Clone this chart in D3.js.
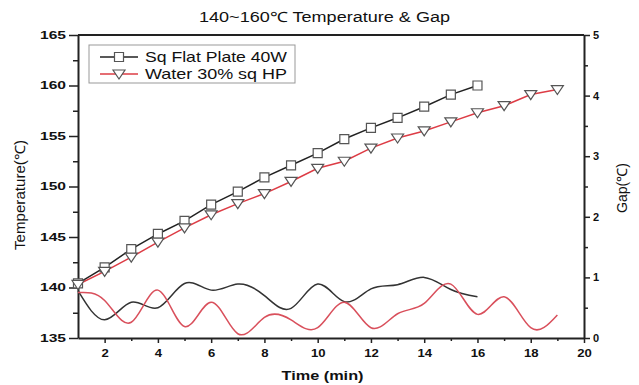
<!DOCTYPE html>
<html>
<head>
<meta charset="utf-8">
<script src="https://cdn.jsdelivr.net/npm/d3@7"></script>
<style>
    body { margin: 0; background: #fff; }
    text { font-family: "Liberation Sans", Arial, sans-serif; fill: #111; }
</style>
</head>
<body>
<div id="chart"></div>
<script>

// data
const timeMin = [1, 2, 3, 4, 5, 6, 7, 8, 9, 10, 11, 12, 13, 14, 15, 16, 17, 18, 19];
const flatTemp = [140.4, 142.0, 143.8, 145.3, 146.6, 148.2, 149.5, 150.9, 152.1, 153.3, 154.7, 155.8, 156.8, 157.9, 159.1, 160.0];
const waterTemp = [140.3, 141.6, 143.0, 144.5, 145.9, 147.2, 148.3, 149.3, 150.5, 151.8, 152.5, 153.8, 154.8, 155.5, 156.4, 157.3, 158.0, 159.1, 159.6];
const flatGap = [0.78, 0.30, 0.59, 0.50, 0.90, 0.79, 0.89, 0.70, 0.49, 0.89, 0.60, 0.81, 0.88, 1.0, 0.80, 0.68];
const waterGap = [0.75, 0.62, 0.26, 0.79, 0.19, 0.59, 0.07, 0.34, 0.30, 0.17, 0.59, 0.17, 0.40, 0.57, 0.89, 0.39, 0.68, 0.17, 0.38];

const seriesNames = ["Sq Flat Plate 40W", "Water 30% sq HP"];
const tempTicks = [135, 140, 145, 150, 155, 160, 165];
const gapTicks = [0, 1, 2, 3, 4, 5];
const timeTicks = [2, 4, 6, 8, 10, 12, 14, 16, 18, 20];


class tempGapVis {

    constructor(parentElement) {
        this.parentElement = parentElement;
        this.initVis()
    }

    initVis() {
        let vis = this;

        vis.margin = { top: 35, right: 55, bottom: 47, left: 78 };
        vis.width = 639 - vis.margin.left - vis.margin.right;
        vis.height = 385 - vis.margin.top - vis.margin.bottom;

        vis.root = d3.select("#" + vis.parentElement).append("svg")
            .attr("width", 639)
            .attr("height", 385);

        vis.svg = vis.root.append("g")
            .attr("transform", `translate(${vis.margin.left}, ${vis.margin.top})`);

        // title
        vis.root.append("text")
            .text("140~160℃ Temperature & Gap")
            .attr("x", 324.5)
            .attr("y", 22)
            .attr("text-anchor", "middle")
            .attr("font-size", 14)
            .attr("textLength", 251)
            .attr("lengthAdjust", "spacingAndGlyphs");

        // scales
        vis.x = d3.scaleLinear().domain([1, 20]).range([0, vis.width]);
        vis.yTemp = d3.scaleLinear().domain([135, 165]).range([vis.height, 0]);
        vis.yGap = d3.scaleLinear().domain([0, 5]).range([vis.height, 0]);

        vis.wrangleData()
    }

    wrangleData() {
        let vis = this;

        vis.flat = flatTemp.map((t, i) => ({ x: timeMin[i], t: t, g: flatGap[i] }));
        vis.water = waterTemp.map((t, i) => ({ x: timeMin[i], t: t, g: waterGap[i] }));

        vis.updateVis()
    }

    updateVis() {
        let vis = this;

        let half = arr => d3.range(arr[0], arr[arr.length - 1], (arr[1] - arr[0]) / 2).filter(v => !arr.includes(v));

        // minor ticks
        vis.svg.append("g").attr("class", "minor")
            .call(d3.axisLeft(vis.yTemp).tickValues(half(tempTicks)).tickSize(5).tickFormat(""));
        vis.svg.append("g").attr("class", "minor")
            .attr("transform", `translate(0, ${vis.height})`)
            .call(d3.axisBottom(vis.x).tickValues(d3.range(3, 20, 2)).tickSize(3).tickFormat(""));
        vis.svg.append("g").attr("class", "minor")
            .attr("transform", `translate(${vis.width}, 0)`)
            .call(d3.axisRight(vis.yGap).tickValues(half(gapTicks)).tickSize(4).tickFormat(""));

        // major axes
        vis.yAxisGroup = vis.svg.append("g")
            .call(d3.axisLeft(vis.yTemp).tickValues(tempTicks).tickSize(9).tickSizeOuter(0).tickPadding(3));
        vis.yAxisGroup.selectAll("text")
            .attr("font-size", 10).attr("font-weight", "bold")
            .attr("textLength", 26).attr("lengthAdjust", "spacingAndGlyphs");

        vis.xAxisGroup = vis.svg.append("g")
            .attr("transform", `translate(0, ${vis.height})`)
            .call(d3.axisBottom(vis.x).tickValues(timeTicks).tickFormat(d3.format("d"))
                .tickSize(5).tickSizeOuter(0).tickPadding(6.5));
        vis.xAxisGroup.selectAll("text")
            .attr("font-size", 11).attr("font-weight", "bold")
            .attr("textLength", d => String(d).length * 7.3).attr("lengthAdjust", "spacingAndGlyphs");

        vis.gapAxisGroup = vis.svg.append("g")
            .attr("transform", `translate(${vis.width}, 0)`)
            .call(d3.axisRight(vis.yGap).tickValues(gapTicks).tickFormat(d3.format("d"))
                .tickSize(6).tickSizeOuter(0).tickPadding(3));
        vis.gapAxisGroup.selectAll("text")
            .attr("font-size", 11).attr("font-weight", "bold");

        vis.svg.selectAll(".domain").attr("stroke", "#222").attr("stroke-width", 2);
        vis.svg.selectAll(".minor .domain").remove();
        vis.svg.selectAll(".tick line").attr("stroke", "#222").attr("stroke-width", 1.5);

        // top frame
        vis.svg.append("line")
            .attr("x1", vis.x(1)).attr("x2", vis.x(20))
            .attr("y1", vis.yTemp(165)).attr("y2", vis.yTemp(165))
            .attr("stroke", "#222").attr("stroke-width", 2);

        // axis titles
        vis.root.append("text")
            .text("Temperature(℃)")
            .attr("transform", `translate(25, 195) rotate(-90)`)
            .attr("text-anchor", "middle")
            .attr("font-size", 14)
            .attr("textLength", 110).attr("lengthAdjust", "spacingAndGlyphs");

        vis.root.append("text")
            .text("Gap(℃)")
            .attr("transform", `translate(627, 188) rotate(-90)`)
            .attr("text-anchor", "middle")
            .attr("font-size", 14)
            .attr("textLength", 50).attr("lengthAdjust", "spacingAndGlyphs");

        vis.root.append("text")
            .text("Time (min)")
            .attr("x", 322.5).attr("y", 380)
            .attr("text-anchor", "middle")
            .attr("font-size", 13).attr("font-weight", "bold")
            .attr("textLength", 82).attr("lengthAdjust", "spacingAndGlyphs");

        let black = "#222", red = "#dd3c45";

        // gap curves (right axis)
        let gapLine = d3.line().x(d => vis.x(d.x)).y(d => vis.yGap(d.g)).curve(d3.curveNatural);
        vis.svg.append("path").datum(vis.flat)
            .attr("d", gapLine).attr("fill", "none").attr("stroke", "#333").attr("stroke-width", 1.5);
        vis.svg.append("path").datum(vis.water)
            .attr("d", gapLine).attr("fill", "none").attr("stroke", "#d9505c").attr("stroke-width", 1.5);

        // temperature lines (left axis)
        let tempLine = d3.line().x(d => vis.x(d.x)).y(d => vis.yTemp(d.t));
        vis.svg.append("path").datum(vis.flat)
            .attr("d", tempLine).attr("fill", "none").attr("stroke", black).attr("stroke-width", 1.5);
        vis.svg.append("path").datum(vis.water)
            .attr("d", tempLine).attr("fill", "none").attr("stroke", red).attr("stroke-width", 1.5);

        let squarePath = "M-4.5,-4.5H4.5V4.5H-4.5Z";
        let triPath = "M-6,-4L6,-4L0,5Z";

        vis.svg.selectAll(".sq")
            .data(vis.flat)
            .join("path")
            .attr("class", "sq")
            .attr("d", squarePath)
            .attr("transform", d => `translate(${vis.x(d.x)}, ${vis.yTemp(d.t)})`)
            .attr("fill", "#fff").attr("stroke", "#555").attr("stroke-width", 1.2);

        vis.svg.selectAll(".tri")
            .data(vis.water)
            .join("path")
            .attr("class", "tri")
            .attr("d", triPath)
            .attr("transform", d => `translate(${vis.x(d.x)}, ${vis.yTemp(d.t)})`)
            .attr("fill", "#fff").attr("stroke", "#555").attr("stroke-width", 1.2);

        // legend
        let legend = vis.root.append("g").attr("transform", "translate(89, 45)");
        legend.append("rect")
            .attr("width", 206).attr("height", 38)
            .attr("fill", "#fff").attr("stroke", "#999").attr("stroke-width", 1);

        let rows = legend.selectAll(".row")
            .data(seriesNames)
            .join("g")
            .attr("class", "row")
            .attr("transform", (d, i) => `translate(0, ${12 + i * 17})`);
        rows.append("line")
            .attr("x1", 11).attr("x2", 49)
            .attr("stroke", (d, i) => i === 0 ? black : red).attr("stroke-width", 1.5);
        rows.append("path")
            .attr("d", (d, i) => i === 0 ? squarePath : triPath)
            .attr("transform", "translate(30, 0)")
            .attr("fill", "#fff").attr("stroke", "#555").attr("stroke-width", 1.2);
        rows.append("text")
            .text(d => d)
            .attr("x", 56).attr("dy", "0.36em")
            .attr("font-size", 14.5)
            .attr("textLength", 142).attr("lengthAdjust", "spacingAndGlyphs");
    }
}

new tempGapVis("chart");

</script>
</body>
</html>
